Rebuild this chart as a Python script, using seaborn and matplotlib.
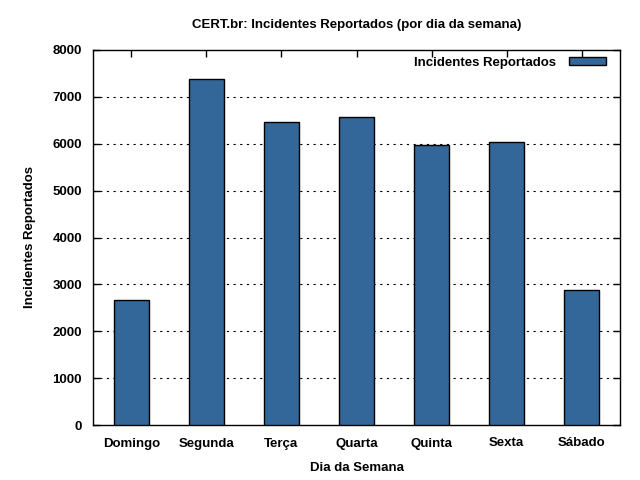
import matplotlib
matplotlib.use("Agg")
import matplotlib.pyplot as plt
import seaborn as sns
import pandas as pd

dias = ["Domingo", "Segunda", "Terça", "Quarta", "Quinta", "Sexta", "Sábado"]
incidentes = [2660, 7383, 6468, 6574, 5979, 6043, 2872]
yticks = [0, 1000, 2000, 3000, 4000, 5000, 6000, 7000, 8000]

sns.set_theme(style="white")
plt.rcParams['font.family'] = ['Liberation Sans', 'DejaVu Sans']
plt.rcParams['font.weight'] = 'bold'
plt.rcParams['text.color'] = 'black'
plt.rcParams['axes.labelcolor'] = 'black'

FS = 9.5

df = pd.DataFrame({"Dia da Semana": dias, "Incidentes Reportados": incidentes})

fig = plt.figure(figsize=(6.4, 4.8), dpi=100)
ax = fig.add_axes([93/640, 55/480, 527/640, 375/480])

sns.barplot(data=df, x="Dia da Semana", y="Incidentes Reportados", color="#336699",
            saturation=1, edgecolor="black", linewidth=1, width=0.466,
            label="Incidentes Reportados", ax=ax, zorder=3)

ax.set_xlim(-0.51, 6.51)
ax.set_ylim(0, 8000)
ax.set_yticks(yticks)
ax.set_yticklabels([str(v) for v in yticks])
for v in yticks[1:-1]:
    ax.axhline(v, color="black", linestyle=(0, (2, 4)), linewidth=0.8, zorder=1)

for s in ax.spines.values():
    s.set_color("black")
    s.set_linewidth(1)
ax.tick_params(axis="both", which="both", direction="in", length=5, width=1,
               colors="black", labelcolor="black", labelsize=FS, top=True, right=True,
               bottom=True, left=True)
ax.tick_params(axis="x", pad=9)
ax.tick_params(axis="y", pad=8)
for lbl in ax.get_xticklabels() + ax.get_yticklabels():
    lbl.set_fontweight("bold")

ax.set_title("CERT.br: Incidentes Reportados (por dia da semana)", fontsize=FS,
             fontweight="bold", pad=16, color="black")
ax.set_xlabel("Dia da Semana", fontsize=FS, fontweight="bold", labelpad=9, color="black")
ax.set_ylabel("Incidentes Reportados", fontsize=FS, fontweight="bold", labelpad=12, color="black")

leg = ax.legend(loc="upper right", bbox_to_anchor=(1 - 7/527, 1.0), frameon=False,
                markerfirst=False, handlelength=2.8, handleheight=0.6, handletextpad=1.0,
                borderaxespad=0.2, borderpad=0.3, prop={"weight": "bold", "size": FS})
for t in leg.get_texts():
    t.set_color("black")

fig.savefig("out.png", dpi=100)
